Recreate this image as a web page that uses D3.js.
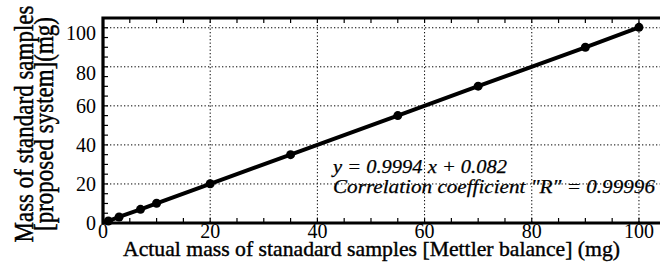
<!DOCTYPE html>
<html>
<head>
<meta charset="utf-8">
<script src="https://cdn.jsdelivr.net/npm/d3@7"></script>
<style>
  html, body { margin: 0; padding: 0; background: #fff; }
  svg { display: block; }
</style>
</head>
<body>
<svg id="chart" width="660" height="262" font-family="Liberation Serif"></svg>
<script>
// ---- data ----
const actualMass = [1, 3, 7, 10, 20, 35, 55, 70, 90, 100];
const measuredMass = [1.0, 3.1, 7.0, 10.1, 20.1, 35.0, 55.0, 70.1, 90.0, 100.2];
const xTickValues = [0, 20, 40, 60, 80, 100];
const yTickValues = [0, 20, 40, 60, 80, 100];
const xTitle = "Actual mass of stanadard samples [Mettler balance] (mg)";
const yTitleLines = ["Mass of standard samples", "[proposed system](mg)"];
const fitText = "y = 0.9994 x + 0.082";
const corrText = "Correlation coefficient \"R\" = 0.99996";

// ---- layout ----
const FONT = "Liberation Serif";
const svg = d3.select("#chart");
const pLeft = 103, pRight = 660.4, pTop = 18, pBottom = 223;
const x = d3.scaleLinear().domain([0, 104]).range([pLeft, pRight]);
const y = d3.scaleLinear().domain([0, 105]).range([pBottom, pTop]);
// the original places the upper y labels a little below their grid lines
const yLabelNudge = v => (v === 100 ? 5 : v === 80 ? 6 : 0);

// grid
const grid = svg.append("g").attr("stroke", "#000").attr("stroke-width", 1)
  .attr("stroke-dasharray", "1.3,2.2");
grid.selectAll("line.gx").data(xTickValues.filter(d => d > 0)).join("line")
  .attr("x1", d => x(d)).attr("x2", d => x(d)).attr("y1", pTop).attr("y2", pBottom);
grid.selectAll("line.gy").data(yTickValues.filter(d => d > 0)).join("line")
  .attr("x1", pLeft).attr("x2", 660).attr("y1", d => y(d)).attr("y2", d => y(d));

// minor ticks every 5 (inward)
const minorX = d3.range(5, 104, 5);
const minorY = d3.range(5, 105, 5);
const ticks = svg.append("g").attr("stroke", "#000").attr("stroke-width", 1.2);
ticks.selectAll("line.tb").data(minorX).join("line")
  .attr("x1", d => x(d)).attr("x2", d => x(d)).attr("y1", pBottom).attr("y2", pBottom - 5);
ticks.selectAll("line.tt").data(minorX).join("line")
  .attr("x1", d => x(d)).attr("x2", d => x(d)).attr("y1", pTop).attr("y2", pTop + 5);
ticks.selectAll("line.tl").data(minorY).join("line")
  .attr("x1", pLeft).attr("x2", pLeft + 5).attr("y1", d => y(d)).attr("y2", d => y(d));

// frame
svg.append("path").attr("d", `M660,${pTop} H${pLeft} V${pBottom} H660`)
  .attr("stroke", "#000").attr("stroke-width", 3.2).attr("fill", "none");

// line + points
const pts = actualMass.map((d, i) => [d, measuredMass[i]]);
svg.append("path").datum(pts)
  .attr("fill", "none").attr("stroke", "#000").attr("stroke-width", 4)
  .attr("stroke-linejoin", "round")
  .attr("d", d3.line().x(d => x(d[0])).y(d => y(d[1])));
svg.append("g").selectAll("circle").data(pts).join("circle")
  .attr("cx", d => x(d[0])).attr("cy", d => y(d[1])).attr("r", 4.5).attr("fill", "#000");

// tick labels
svg.append("g").selectAll("text").data(yTickValues).join("text")
  .attr("font-family", FONT)
  .attr("x", 96).attr("y", d => y(d) + yLabelNudge(d)).attr("dy", "0.35em")
  .attr("text-anchor", "end").attr("font-size", 20).text(d => d);
svg.append("g").selectAll("text").data(xTickValues).join("text")
  .attr("font-family", FONT)
  .attr("x", d => x(d)).attr("y", 238)
  .attr("text-anchor", "middle").attr("font-size", 20).text(d => d);

// axis titles
svg.append("text").attr("font-family", FONT)
  .attr("x", 371.5).attr("y", 256).attr("text-anchor", "middle")
  .attr("font-size", 22).attr("stroke", "#000").attr("stroke-width", 0.4)
  .attr("textLength", 497).attr("lengthAdjust", "spacingAndGlyphs")
  .text(xTitle);
const yt = svg.append("g").attr("transform", "translate(0,124) rotate(-90)");
yt.append("text").attr("font-family", FONT)
  .attr("x", 0).attr("y", 33).attr("text-anchor", "middle")
  .attr("font-size", 28).attr("stroke", "#000").attr("stroke-width", 0.5)
  .attr("textLength", 237).attr("lengthAdjust", "spacingAndGlyphs")
  .text(yTitleLines[0]);
yt.append("text").attr("font-family", FONT)
  .attr("x", 0).attr("y", 53).attr("text-anchor", "middle")
  .attr("font-size", 28).attr("stroke", "#000").attr("stroke-width", 0.5)
  .attr("textLength", 214).attr("lengthAdjust", "spacingAndGlyphs")
  .text(yTitleLines[1]);

// annotation
svg.append("text").attr("font-family", FONT)
  .attr("x", 333).attr("y", 173).attr("font-style", "italic")
  .attr("font-size", 19).attr("stroke", "#000").attr("stroke-width", 0.25)
  .attr("textLength", 174).attr("lengthAdjust", "spacingAndGlyphs")
  .text(fitText);
svg.append("text").attr("font-family", FONT)
  .attr("x", 333).attr("y", 193).attr("font-style", "italic")
  .attr("font-size", 19).attr("stroke", "#000").attr("stroke-width", 0.25)
  .attr("textLength", 322).attr("lengthAdjust", "spacingAndGlyphs")
  .text(corrText);
</script>
</body>
</html>
